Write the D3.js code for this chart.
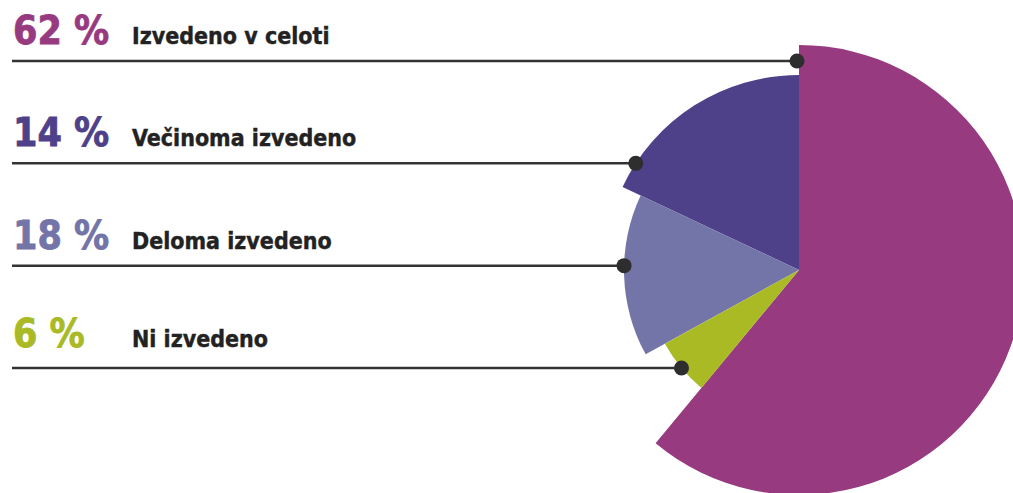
<!DOCTYPE html>
<html>
<head>
<meta charset="utf-8">
<script src="https://cdn.jsdelivr.net/npm/d3@7"></script>
<style>
  html, body { margin: 0; padding: 0; background: #fff; }
  svg { display: block; }
</style>
</head>
<body>
<script>
// rows, top to bottom
var categories = ['Izvedeno v celoti', 'Večinoma izvedeno', 'Deloma izvedeno', 'Ni izvedeno'];
var labelPct = [62, 14, 18, 6];
// angular share of each slice as drawn in the picture
var sliceShare = [61, 18, 15, 6];
// clockwise position of each row's slice, starting at 12 o'clock
var pieOrder = [0, 3, 2, 1];

var width = 1013, height = 493;
var cx = 799, cy = 270;
var outerR = [225, 195, 175, 153];
var colors = ['#973a80', '#4e4189', '#7374a7', '#a9ba25'];

var svg = d3.select('body')
  .append('svg')
  .attr('width', width)
  .attr('height', height);

var rows = categories.map(function(c, i) {
  return { name: c, pct: labelPct[i], share: sliceShare[i], ord: pieOrder[i], i: i };
});

var pie = d3.pie()
  .value(function(d) { return d.share; })
  .sort(function(a, b) { return a.ord - b.ord; });

var arcs = pie(rows);

var arc = d3.arc()
  .innerRadius(0)
  .outerRadius(function(d) { return outerR[d.data.i]; });

var g = svg.append('g').attr('transform', 'translate(' + cx + ',' + cy + ')');

g.selectAll('path')
  .data(arcs)
  .enter()
  .append('path')
  .attr('d', arc)
  .attr('fill', function(d) { return colors[d.data.i]; });

// rows of lines
var y = d3.scalePoint()
  .domain(d3.range(rows.length))
  .range([61, 368]);

// leftmost point of a slice on a horizontal line
var dotX = function(a, yy) {
  var r = outerR[a.data.i];
  var dy = yy - cy;
  if (Math.abs(dy) < r) {
    var dx = -Math.sqrt(r * r - dy * dy);
    var ang = Math.atan2(dx, -dy);
    if (ang < 0) ang += 2 * Math.PI;
    if (ang >= a.startAngle && ang <= a.endAngle) return cx + dx;
  }
  return cx - 2;
};

arcs.forEach(function(a) {
  var i = a.data.i;
  var yy = y(i);
  var x2 = dotX(a, yy);
  var base = yy - (i == 3 ? 21 : 17);

  svg.append('line')
    .attr('x1', 12)
    .attr('x2', x2)
    .attr('y1', yy)
    .attr('y2', yy)
    .attr('stroke', '#333')
    .attr('stroke-width', 2.5);

  svg.append('circle')
    .attr('cx', x2)
    .attr('cy', yy)
    .attr('r', 7.5)
    .attr('fill', '#2e2e2e');

  svg.append('text')
    .attr('x', 13)
    .attr('y', base)
    .attr('font-family', '"DejaVu Sans Condensed", "DejaVu Sans", sans-serif')
    .attr('font-weight', 'bold')
    .attr('font-size', 39)
    .attr('fill', colors[i])
    .attr('stroke', colors[i])
    .attr('stroke-width', 0.8)
    .text(a.data.pct + ' %');

  svg.append('text')
    .attr('x', 132)
    .attr('y', base)
    .attr('font-family', '"DejaVu Sans Condensed", "DejaVu Sans", sans-serif')
    .attr('font-weight', 'bold')
    .attr('font-size', 23)
    .attr('fill', '#222')
    .attr('stroke', '#222')
    .attr('stroke-width', 0.4)
    .text(a.data.name);
});
</script>
</body>
</html>
